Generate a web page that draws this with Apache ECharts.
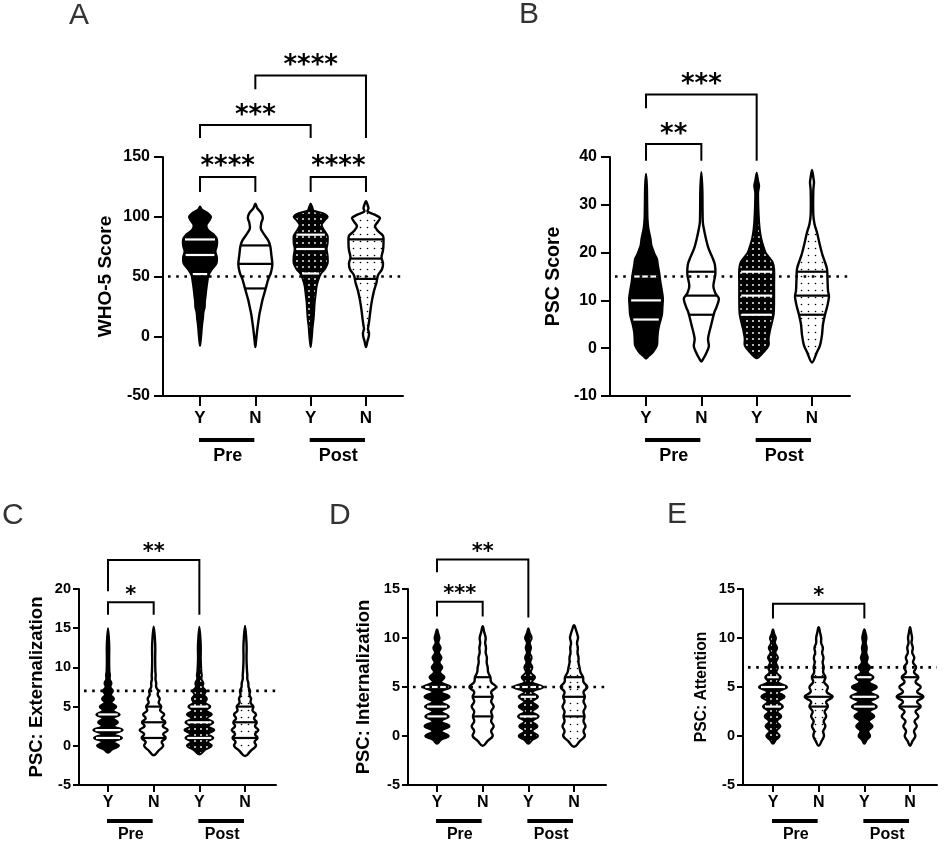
<!DOCTYPE html>
<html><head><meta charset="utf-8">
<script src="https://cdn.jsdelivr.net/npm/echarts@6/dist/echarts.min.js"></script>
<style>html,body{margin:0;padding:0;background:#fff}#c{width:944px;height:845px}</style>
</head><body><div id="c"></div>
<script>
// ---------------- DATA ----------------
const categories = ['Y', 'N', 'Y', 'N'];
const phases = ['Pre', 'Post'];
const axisNames = ['WHO-5 Score', 'PSC Score', 'PSC: Externalization', 'PSC: Internalization', 'PSC: Attention'];
const panelLetters = ['A', 'B', 'C', 'D', 'E'];

// Violin density profiles: [value, relative half-width], read from top to bottom
const A_Y_pre  = [[108.5,0],[106,2],[103,8],[100,11],[97,9.5],[93,6.5],[89,8],[85,14],[81,17],[76,17],[71,15.5],[66,17],[61,16.5],[56,12],[51,8.5],[46,7.5],[40,6.5],[34,5.7],[29,5],[24,4.7],[20,3.5],[15,3],[10,2.2],[5,1.7],[0,1.2],[-4,0.7],[-8,0]];
const A_N_pre  = [[111,0],[107,2],[103,6],[99,7.5],[95,6],[90,5.5],[85,9],[80,13],[75,15],[68,16],[60,17],[53,15.5],[48,13],[42,11],[36,9],[30,7],[24,5.5],[18,4],[12,3],[6,2],[0,1.2],[-5,0.6],[-9,0]];
const A_Y_post = [[111,0],[107,2],[105,3],[103,12],[100,17],[97,14],[93,11],[88,14],[84,17],[78,17],[73,16],[67,17],[61,17],[56,14],[52,10],[48,8],[42,6],[35,5],[28,4],[21,3.5],[15,3],[8,2],[2,1.5],[-4,0.8],[-9,0]];
const A_N_post = [[113,0],[109,2],[107,2.5],[104.5,1.5],[102,8],[99,14],[96,12],[92,9],[88,12],[84,17],[78,17.5],[72,17],[66,15.5],[61,17],[56,16],[51,12],[45,10.5],[38,8],[30,6],[22,4.5],[15,3.5],[9,2.5],[6,2],[3,3],[0,2.8],[-4,1.5],[-9,0]];
const A_quartiles = [[52,68,81],[40,60.5,76],[52.5,73,85],[48,65,81]];
const A_cutoff = 50;
const A_ticks = [-50, 0, 50, 100, 150];
const A_brackets = [
  {from:0, to:1, bar:133.3, ends:[120.8,120.8], label:'****'},
  {from:2, to:3, bar:133.3, ends:[120.8,120.8], label:'****'},
  {from:0, to:2, bar:176.7, ends:[165.8,165.8], label:'***'},
  {from:1, to:3, bar:218.3, ends:[206.7,165.8], label:'****'}
];

const B_Y_pre  = [[36.5,0],[34,1],[30,1.3],[27,1.6],[25,2.5],[23,4.5],[21.5,5.5],[20.8,6.7],[19.5,9],[18.7,11],[17.3,12],[15.5,13.5],[13.8,14.5],[12,16],[10.4,17],[8.5,16.5],[7,16],[5,13.5],[3.4,12],[2,11.5],[0.6,11],[-0.8,7],[-1.6,3],[-2.2,0]];
const B_N_pre  = [[36.8,0],[33,1],[29,1.2],[26.3,1.5],[25,2.5],[23,4.5],[21,7],[19,11],[17.5,13.5],[15.5,14],[13,12],[11.5,14],[10.4,17.5],[8.5,15],[7.5,13],[5,10],[2,6.7],[0.4,7.5],[-1,5],[-2,2.5],[-2.8,0]];
const B_Y_post = [[36.7,0],[35,1.5],[34,2.5],[32.5,1.5],[28,2],[25,3],[23,4.5],[21.5,6.5],[20,9],[19,12.5],[18,16],[16.5,17.5],[13,17.5],[10,17.5],[7,17],[4,13.7],[2,12],[0.6,12],[-0.8,7],[-2.1,0]];
const B_N_post = [[37.3,0],[35.5,1.5],[34.7,2],[33,1.3],[28,1.3],[26,2.5],[24.2,5],[21.5,8],[19.5,10.5],[18,13],[16.6,15],[14.4,15.5],[12,16],[10.8,17],[9,15.5],[7,13],[5,11],[2.8,10],[0.6,8],[-0.8,5],[-3,0]];
const B_quartiles = [[6,10,15],[7,11,16],[7,11,16],[7,11,16]];
const B_cutoff = 15;
const B_ticks = [-10, 0, 10, 20, 30, 40];
const B_brackets = [
  {from:0, to:1, bar:42.7, ends:[39.2,39.2], label:'**'},
  {from:0, to:2, bar:53.1, ends:[50.2,39.2], label:'***'}
];

const C_Y_pre  = [[15,0],[13,1.3],[11,1.3],[9.5,1.5],[9,2],[8.5,1.8],[8,3.5],[7.5,2.5],[7,5],[6.5,3],[6,6],[5.5,3.5],[5,8.3],[4.5,5],[4,11.7],[3.5,5.5],[3,10],[2.5,6],[2,14.7],[1.5,6.5],[1,14],[0.5,6],[0,11],[-0.5,4],[-0.9,0]];
const C_N_pre  = [[15.2,0],[13,1.5],[11,1.5],[9.5,1.7],[9,2],[8.5,1.8],[8,2.5],[7.5,2.5],[7,4.5],[6.5,4],[6,6],[5.5,5],[5,7.5],[4.5,6.5],[4,10.5],[3.5,8],[3,11.7],[2.5,9],[2,14],[1.5,9.5],[1,12],[0.5,8],[0,9.5],[-0.6,5],[-1.2,0]];
const C_Y_post = [[15.2,0],[13,1.5],[11,1.5],[9.5,2],[9,2.5],[8.5,2.2],[8,4],[7.5,3.5],[7,6.7],[6.5,5],[6,7.5],[5.5,6],[5,11],[4.5,7],[4,12.5],[3.5,8],[3,14],[2.5,9],[2,15],[1.5,9],[1,14],[0.5,8.5],[0,12.5],[-0.5,6],[-1.1,0]];
const C_N_post = [[15.3,0],[13,1.5],[11,1.5],[9.5,2],[9,2.3],[8.5,2.3],[8,3.3],[7.5,3.5],[7,5],[6.5,4.5],[6,6],[5.5,5.5],[5,8.3],[4.5,7.5],[4,11],[3.5,9],[3,11.7],[2.5,10],[2,13.3],[1.5,10],[1,12.5],[0.5,9.5],[0,11],[-0.6,6],[-1.3,0]];
const C_quartiles = [[1,2,4],[1,3,5],[1,3,5],[1,3,5]];
const C_cutoff = 7;
const C_ticks = [-5, 0, 5, 10, 15, 20];
const C_brackets = [
  {from:0, to:1, bar:18.3, ends:[16.7,16.7], label:'*'},
  {from:0, to:2, bar:23.7, ends:[19.7,16.7], label:'**'}
];

const D_Y_pre  = [[10.9,0],[10.4,1.5],[10,2.5],[9.5,1.5],[9,3.7],[8.5,2],[8,4.5],[7.5,2.5],[7,5.3],[6.5,3],[6,7.5],[5.5,4],[5,13.7],[4.5,4.5],[4,12.5],[3.5,4.5],[3,12],[2.5,4.5],[2,11.7],[1.5,4.5],[1,12.5],[0.5,4.5],[0,11.8],[-0.4,4],[-0.8,0]];
const D_N_pre  = [[11.2,0],[10.6,1.5],[10,3],[9.5,2.5],[9,3.3],[8.5,3],[8,4.2],[7.5,4],[7,5],[6.5,5.5],[6,7.7],[5.5,8.5],[5,13.3],[4.5,8.5],[4,10],[3.5,8.5],[3,11],[2.5,8.5],[2,9.7],[1.5,8.5],[1,11],[0.5,8.5],[0,10],[-0.5,5],[-1,0]];
const D_Y_post = [[11,0],[10.5,1.5],[10,3.3],[9.5,1.5],[9,2.7],[8.5,1.5],[8,3.3],[7.5,2],[7,4],[6.5,2.5],[6,6.7],[5.5,4],[5,15],[4.5,4],[4,9.7],[3.5,4],[3,9.7],[2.5,4],[2,10.3],[1.5,4],[1,9.2],[0.5,4],[0,9.7],[-0.4,4],[-0.8,0]];
const D_N_post = [[11.3,0],[10.8,2],[10.3,3.5],[10,4],[9.5,3],[9,3.8],[8.5,3.5],[8,4.5],[7.5,4.5],[7,5.5],[6.5,6.5],[6,9],[5.5,9.5],[5,13.3],[4.5,9.5],[4,10.8],[3.5,9.5],[3,11.5],[2.5,9.5],[2,10.5],[1.5,9.5],[1,11.5],[0.5,9.5],[0,10.8],[-0.5,6],[-1.1,0]];
const D_quartiles = [[2,3,5],[2,4,6],[2,4,5],[2,4,6]];
const D_cutoff = 5;
const D_ticks = [-5, 0, 5, 10, 15];
const D_brackets = [
  {from:0, to:1, bar:13.7, ends:[12.2,12.2], label:'***'},
  {from:0, to:2, bar:18.0, ends:[16.7,12.1], label:'**'}
];

const E_Y_pre  = [[10.9,0],[10.4,1.5],[10,3],[9.5,2],[9,4.2],[8.5,2.5],[8,5],[7.5,3],[7,5],[6.5,3.5],[6,7.8],[5.5,5],[5,14],[4.5,6],[4,11.7],[3.5,5.5],[3,10],[2.5,4.5],[2,8.3],[1.5,4],[1,7.5],[0.5,3.5],[0,6.7],[-0.4,3],[-0.8,0]];
const E_N_pre  = [[11.1,0],[10.5,1.5],[10,2.5],[9.5,2.5],[9,4.2],[8.5,3.5],[8,4.8],[7.5,4],[7,5],[6.5,4.5],[6,6.8],[5.5,5.5],[5,9.2],[4.5,8],[4,14],[3.5,7.5],[3,9.2],[2.5,6],[2,7.5],[1.5,5],[1,6.7],[0.5,4.5],[0,5.3],[-0.5,3],[-1,0]];
const E_Y_post = [[10.9,0],[10.4,1.5],[10,2.2],[9.5,1.5],[9,2.5],[8.5,2],[8,3.5],[7.5,2.5],[7,5.8],[6.5,3.5],[6,9.2],[5.5,5],[5,12.5],[4.5,6],[4,14],[3.5,6],[3,12.5],[2.5,5.5],[2,10],[1.5,4.5],[1,8.2],[0.5,4],[0,5.8],[-0.4,2.5],[-0.8,0]];
const E_N_post = [[11.1,0],[10.5,1.2],[10,2],[9.5,1.5],[9,2.8],[8.5,2.2],[8,4.2],[7.5,3],[7,6],[6.5,4],[6,8.3],[5.5,5.5],[5,10.7],[4.5,7],[4,13.3],[3.5,7],[3,10.7],[2.5,5.5],[2,8.3],[1.5,4.5],[1,6.7],[0.5,4],[0,5.3],[-0.5,2.5],[-1,0]];
const E_quartiles = [[3,5,6],[3,4,6],[3,4,6],[3,4,6]];
const E_cutoff = 7;
const E_ticks = [-5, 0, 5, 10, 15];
const E_brackets = [
  {from:0, to:2, bar:13.5, ends:[12.0,12.0], label:'*'}
];

// ---------------- STYLE / LAYOUT ----------------
const FONT = 'Arial, "Liberation Sans", Helvetica, sans-serif';
const STAR_FONT = '"DejaVu Sans", sans-serif';

function dotCanvas(bg, dot, step, r) {
  const c = document.createElement('canvas');
  c.width = step; c.height = step;
  const g = c.getContext('2d');
  g.fillStyle = bg; g.fillRect(0, 0, step, step);
  g.fillStyle = dot; g.beginPath(); g.arc(step / 2, step / 2, r, 0, Math.PI * 2); g.fill();
  return c;
}
const FILLS = {
  black:     {fill: '#000', line: '#fff', lw: 2, inset: 2},
  white:     {fill: '#fff', line: '#000', lw: 2.4, inset: 0},
  blackdots: {fill: {image: dotCanvas('#000', '#fff', 6, 0.95), repeat: 'repeat'}, line: '#fff', lw: 2, inset: 2},
  whitedots: {fill: {image: dotCanvas('#fff', '#000', 7, 0.8), repeat: 'repeat'}, line: '#000', lw: 2.4, inset: 0}
};

const big = {tickFont:16, catFont:17, phaseFont:18, starFont:26, starGap:16, catMargin:14, yTickLen:9, yLabelMargin:13, xTickLen:10, barOff:44, phaseOff:60.5, dScale:1/55.3, smooth:0.3};
const small = {tickFont:14.5, catFont:16, phaseFont:16, starFont:21, starGap:12.5, catMargin:10, yTickLen:6, yLabelMargin:8, xTickLen:7, barOff:36, phaseOff:50, dScale:1/45.7, smooth:0.45};

const panels = [
  Object.assign({}, big, {profiles:[A_Y_pre,A_N_pre,A_Y_post,A_N_post], quart:A_quartiles, cutoff:A_cutoff, ticks:A_ticks, brackets:A_brackets,
    fills:['black','white','blackdots','whitedots'], grid:{left:163,top:157,width:240,height:239}, xMin:-0.669, xMax:3.669, nameGap:48, nameSize:19, letter:[69,16]}),
  Object.assign({}, big, {profiles:[B_Y_pre,B_N_pre,B_Y_post,B_N_post], quart:B_quartiles, cutoff:B_cutoff, ticks:B_ticks, brackets:B_brackets,
    fills:['black','white','blackdots','whitedots'], grid:{left:610,top:157,width:240,height:239}, xMin:-0.651, xMax:3.687, nameGap:46, nameSize:19.5, letter:[519,15]}),
  Object.assign({}, small, {profiles:[C_Y_pre,C_N_pre,C_Y_post,C_N_post], quart:C_quartiles, cutoff:C_cutoff, ticks:C_ticks, brackets:C_brackets,
    fills:['black','white','blackdots','whitedots'], grid:{left:79,top:589,width:197,height:196}, xMin:-0.635, xMax:3.678, nameGap:33, nameSize:18.5, letter:[2,516]}),
  Object.assign({}, small, {profiles:[D_Y_pre,D_N_pre,D_Y_post,D_N_post], quart:D_quartiles, cutoff:D_cutoff, ticks:D_ticks, brackets:D_brackets,
    fills:['black','white','blackdots','whitedots'], grid:{left:408,top:589,width:198,height:196}, xMin:-0.635, xMax:3.70, nameGap:35, nameSize:18.5, letter:[329,516]}),
  Object.assign({}, small, {profiles:[E_Y_pre,E_N_pre,E_Y_post,E_N_post], quart:E_quartiles, cutoff:E_cutoff, ticks:E_ticks, brackets:E_brackets,
    fills:['blackdots','whitedots','black','white'], grid:{left:743,top:589,width:194,height:196}, xMin:-0.656, xMax:3.59, nameGap:33, nameSize:15.7, letter:[667,515]})
];

function widthAt(prof, v) {
  for (let k = 0; k < prof.length - 1; k++) {
    const [v1, w1] = prof[k], [v2, w2] = prof[k + 1];
    if (v <= v1 && v >= v2) {
      const t = v1 === v2 ? 0 : (v1 - v) / (v1 - v2);
      return w1 + t * (w2 - w1);
    }
  }
  return 0;
}

// ---------------- BUILD OPTION ----------------
const grids = [], xAxes = [], yAxes = [], series = [], graphics = [];
panels.forEach((p, pi) => {
  grids.push(Object.assign({containLabel: false, outerBoundsMode: 'none'}, p.grid));
  const yMin = p.ticks[0], yMax = p.ticks[p.ticks.length - 1], yInt = p.ticks[1] - p.ticks[0];
  xAxes.push({
    type: 'value', gridIndex: pi, min: p.xMin, max: p.xMax,
    splitLine: {show: false},
    axisLine: {show: true, onZero: false, lineStyle: {color: '#000', width: 2}},
    axisTick: {show: true, customValues: [0, 1, 2, 3], length: p.xTickLen, lineStyle: {color: '#000', width: 2}},
    axisLabel: {show: true, customValues: [0, 1, 2, 3], formatter: v => categories[Math.round(v)] || '',
      color: '#000', fontWeight: 'bold', fontFamily: FONT, fontSize: p.catFont, margin: p.catMargin}
  });
  yAxes.push({
    type: 'value', gridIndex: pi, min: yMin, max: yMax, interval: yInt,
    name: axisNames[pi], nameLocation: 'middle', nameRotate: 90, nameGap: p.nameGap,
    nameTextStyle: {color: '#000', fontWeight: 'bold', fontFamily: FONT, fontSize: p.nameSize},
    splitLine: {show: false},
    axisLine: {show: true, onZero: false, lineStyle: {color: '#000', width: 2}},
    axisTick: {show: true, length: p.yTickLen, lineStyle: {color: '#000', width: 2}},
    axisLabel: {color: '#000', fontWeight: 'bold', fontFamily: FONT, fontSize: p.tickFont, margin: p.yLabelMargin}
  });

  // violins
  series.push({
    type: 'custom', xAxisIndex: pi, yAxisIndex: pi, z: 2, silent: true,
    data: p.quart.map((q, i) => [i, q[1]]),
    renderItem: (params, api) => {
      const i = params.dataIndex;
      const prof = p.profiles[i];
      const pts = [];
      prof.forEach(([v, w]) => pts.push(api.coord([i + w * p.dScale, v])));
      for (let k = prof.length - 2; k >= 1; k--) {
        const [v, w] = prof[k];
        pts.push(api.coord([i - w * p.dScale, v]));
      }
      const f = FILLS[p.fills[i]];
      const children = [{
        type: 'polygon', shape: {points: pts, smooth: p.smooth},
        style: {fill: f.fill, stroke: '#000', lineWidth: f.lw, lineJoin: 'round'}
      }];
      p.quart[i].forEach(q => {
        const w = widthAt(prof, q) * p.dScale;
        const a = api.coord([i - w, q]), b = api.coord([i + w, q]);
        children.push({type: 'line', shape: {x1: a[0] + f.inset, y1: a[1], x2: b[0] - f.inset, y2: b[1]},
          style: {stroke: f.line, lineWidth: 2.2}});
      });
      return {type: 'group', children};
    }
  });

  // dotted cutoff line
  series.push({
    type: 'custom', xAxisIndex: pi, yAxisIndex: pi, z: 3, silent: true,
    data: [[p.xMin, p.cutoff]],
    renderItem: (params, api) => {
      const a = api.coord([p.xMin, p.cutoff]), b = api.coord([p.xMax, p.cutoff]);
      return {type: 'line', shape: {x1: a[0] + 5, y1: a[1], x2: b[0], y2: b[1]},
        style: {stroke: '#000', lineWidth: 2.6, lineDash: [2.6, 5.6]}};
    }
  });

  // significance brackets
  series.push({
    type: 'custom', xAxisIndex: pi, yAxisIndex: pi, z: 4, silent: true, clip: false,
    data: p.brackets.map(b => [b.from, b.bar]),
    renderItem: (params, api) => {
      const br = p.brackets[params.dataIndex];
      const l = api.coord([br.from, br.ends[0]]), lt = api.coord([br.from, br.bar]);
      const rt = api.coord([br.to, br.bar]), r = api.coord([br.to, br.ends[1]]);
      return {type: 'group', children: [
        {type: 'polyline', shape: {points: [l, lt, rt, r]}, style: {stroke: '#000', lineWidth: 2, fill: null, lineJoin: 'miter'}},
        {type: 'text', x: (lt[0] + rt[0]) / 2, y: lt[1] - p.starGap + p.starFont * 0.26,
          style: {text: br.label, align: 'center', verticalAlign: 'middle', fill: '#000',
            font: 'bold ' + p.starFont + 'px ' + STAR_FONT}}
      ]};
    }
  });

  // Pre / Post group bars
  series.push({
    type: 'custom', xAxisIndex: pi, yAxisIndex: pi, z: 4, silent: true, clip: false,
    data: phases.map((ph, g) => [2 * g + 0.5, yMin]),
    renderItem: (params, api) => {
      const g = params.dataIndex;
      const x1 = api.coord([2 * g, yMin])[0], x2 = api.coord([2 * g + 1, yMin])[0];
      const base = api.coord([0, yMin])[1];
      return {type: 'group', children: [
        {type: 'rect', shape: {x: x1 - 1, y: base + p.barOff - 2, width: x2 - x1, height: 4}, style: {fill: '#000'}},
        {type: 'text', x: (x1 + x2) / 2, y: base + p.phaseOff,
          style: {text: phases[g], align: 'center', verticalAlign: 'middle', fill: '#000',
            font: 'bold ' + p.phaseFont + 'px ' + FONT}}
      ]};
    }
  });

  graphics.push({type: 'text', x: p.letter[0], y: p.letter[1], silent: true,
    style: {text: panelLetters[pi], fill: '#333', font: '30px ' + FONT, align: 'left', verticalAlign: 'middle'}});
});

const chart = echarts.init(document.getElementById('c'), null, {renderer: 'canvas'});
chart.setOption({
  animation: false,
  backgroundColor: '#fff',
  grid: grids, xAxis: xAxes, yAxis: yAxes, series: series, graphic: graphics
});
</script></body></html>
